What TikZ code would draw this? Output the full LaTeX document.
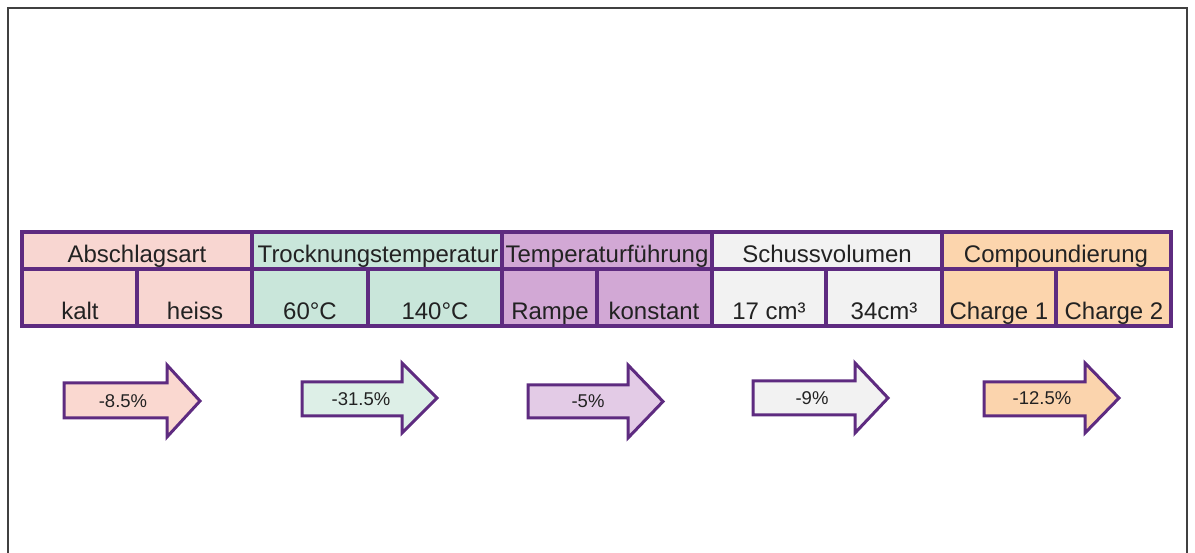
\documentclass[tikz,border=0pt]{standalone}
\usepackage{fontspec}
\setmainfont{Liberation Sans}
\usetikzlibrary{fit}
\definecolor{bord}{HTML}{5E2B80}
\definecolor{txt}{HTML}{222222}
\definecolor{cA}{HTML}{F8D6D1}
\definecolor{cB}{HTML}{C9E6DA}
\definecolor{cC}{HTML}{D2A8D5}
\definecolor{cD}{HTML}{F2F2F2}
\definecolor{cE}{HTML}{FCD5AD}
\definecolor{aA}{HTML}{FAD8D0}
\definecolor{aB}{HTML}{DDEFE7}
\definecolor{aC}{HTML}{E3CBE6}
\definecolor{aD}{HTML}{F2F2F2}
\definecolor{aE}{HTML}{FBD4AD}
\begin{document}
\begin{tikzpicture}[x=1pt,y=-1pt,
  cell/.style={draw=bord, line width=3.5pt, inner sep=0pt},
  ttext/.style={font=\fontsize{24}{28}\selectfont, text=txt, anchor=base, inner sep=0pt},
  atext/.style={font=\fontsize{18.5}{22}\selectfont, text=txt, inner sep=0pt},
  arr/.style={draw=bord, line width=3pt, line join=miter},
  frameline/.style={line width=1.2pt, draw=black!75}]
\useasboundingbox (0,0) rectangle (1195,553);
% frame
\draw[frameline] (8,553) -- (8,8) -- (1187,8) -- (1187,553);
% header cells
\node[cell, fill=cA, fit={(22,232) (252,269)}] (h1) {};
\node[cell, fill=cB, fit={(252,232) (502,269)}] (h2) {};
\node[cell, fill=cC, fit={(502,232) (712,269)}] (h3) {};
\node[cell, fill=cD, fit={(712,232) (942,269)}] (h4) {};
\node[cell, fill=cE, fit={(942,232) (1171,269)}] (h5) {};
% sub cells
\node[cell, fill=cA, fit={(22,269) (137,326)}] (s1) {};
\node[cell, fill=cA, fit={(137,269) (252,326)}] (s2) {};
\node[cell, fill=cB, fit={(252,269) (368,326)}] (s3) {};
\node[cell, fill=cB, fit={(368,269) (502,326)}] (s4) {};
\node[cell, fill=cC, fit={(502,269) (597,326)}] (s5) {};
\node[cell, fill=cC, fit={(597,269) (712,326)}] (s6) {};
\node[cell, fill=cD, fit={(712,269) (826,326)}] (s7) {};
\node[cell, fill=cD, fit={(826,269) (942,326)}] (s8) {};
\node[cell, fill=cE, fit={(942,269) (1056,326)}] (s9) {};
\node[cell, fill=cE, fit={(1056,269) (1171,326)}] (s10) {};
% header texts
\node[ttext] (th1) at (137,263) {Abschlagsart};
\node[ttext] (th2) at (378,263) {Trocknungstemperatur};
\node[ttext] (th3) at (607,263) {Temperaturführung};
\node[ttext] (th4) at (827,263) {Schussvolumen};
\node[ttext] (th5) at (1056,263) {Compoundierung};
% sub texts
\node[ttext] (ts1) at (80,320) {kalt};
\node[ttext] (ts2) at (195,320) {heiss};
\node[ttext] (ts3) at (310,320) {60°C};
\node[ttext] (ts4) at (435,320) {140°C};
\node[ttext] (ts5) at (550,320) {Rampe};
\node[ttext] (ts6) at (654,320) {konstant};
\node[ttext] (ts7) at (769,320) {17 cm³};
\node[ttext] (ts8) at (884,320) {34cm³};
\node[ttext] (ts9) at (999,320) {Charge 1};
\node[ttext] (ts10) at (1114,320) {Charge 2};
% arrows
\draw[arr, fill=aA] (64,383) -- (167,383) -- (167,365) -- (200,401) -- (167,437) -- (167,418) -- (64,418) -- cycle;
\draw[arr, fill=aB] (302,382) -- (402,382) -- (402,363) -- (437,398) -- (402,433) -- (402,416) -- (302,416) -- cycle;
\draw[arr, fill=aC] (528,385) -- (628,385) -- (628,365) -- (663,401.5) -- (628,438) -- (628,418) -- (528,418) -- cycle;
\draw[arr, fill=aD] (753,381) -- (855,381) -- (855,363) -- (888,398) -- (855,433) -- (855,415) -- (753,415) -- cycle;
\draw[arr, fill=aE] (984,382) -- (1085,382) -- (1085,363) -- (1119,398) -- (1085,433) -- (1085,416) -- (984,416) -- cycle;
\node[atext] (a1) at (123,401) {-8.5\%};
\node[atext] (a2) at (361,399) {-31.5\%};
\node[atext] (a3) at (588,401) {-5\%};
\node[atext] (a4) at (812,398) {-9\%};
\node[atext] (a5) at (1042,398) {-12.5\%};
\end{tikzpicture}
\end{document}
